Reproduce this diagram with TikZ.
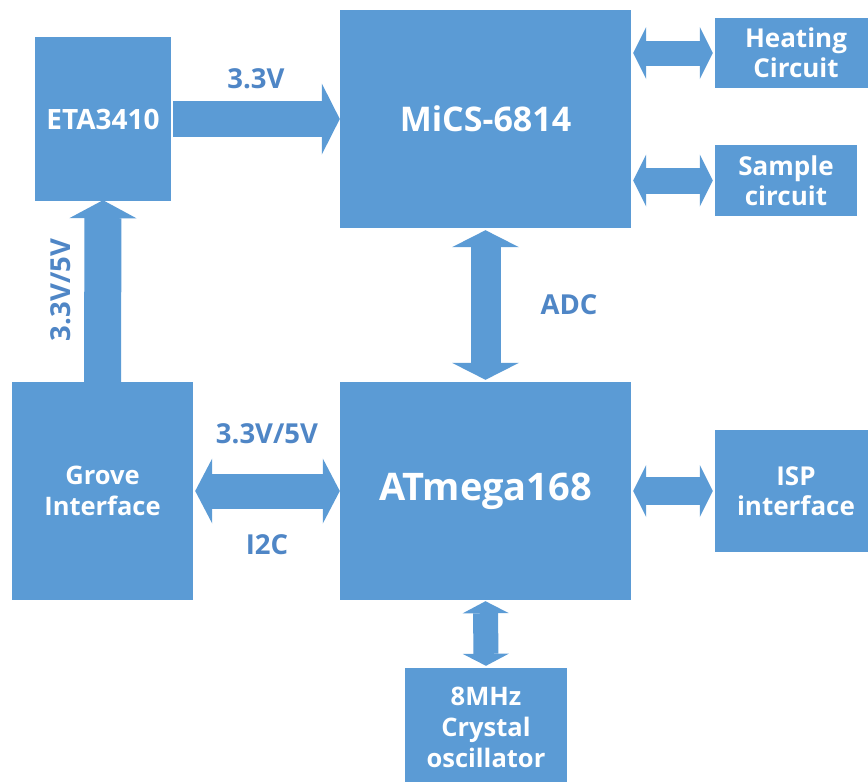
\documentclass[tikz,border=0pt]{standalone}
\usepackage{fontspec}
\setmainfont{Open Sans}
\usetikzlibrary{arrows.meta,calc}
\definecolor{boxblue}{HTML}{5B9BD5}
\definecolor{lblblue}{HTML}{4F86C6}
\tikzset{
  box/.style={fill=boxblue, draw=none, text=white, align=center, inner sep=0pt,
    font=\bfseries\fontsize{26}{30}\selectfont},
  lbl/.style={text=lblblue, inner sep=0pt, font=\bfseries\fontsize{27.5}{30}\selectfont},
  bus/.style args={#1/#2/#3}{draw=boxblue, line width=#1,
    arrows={-{Triangle[length=#3, width=#2, line width=0pt]}}},
  dbus/.style args={#1/#2/#3}{draw=boxblue, line width=#1,
    arrows={{Triangle[length=#3, width=#2, line width=0pt]}-{Triangle[length=#3, width=#2, line width=0pt]}}}
}
\begin{document}
\begin{tikzpicture}[x=1pt,y=-1pt]
\useasboundingbox[fill=white] (0,0) rectangle (868,782);
% boxes
\node[box, minimum width=136pt, minimum height=164pt, font=\bfseries\fontsize{28}{32}\selectfont] (eta) at (103,119) {ETA3410};
\node[box, minimum width=291pt, minimum height=218pt, font=\bfseries\fontsize{34}{38}\selectfont] (mics) at (485.5,119) {MiCS-6814};
\node[box, minimum width=162pt, minimum height=70pt] (heat) at (796,53) {Heating\\Circuit};
\node[box, minimum width=142pt, minimum height=71pt] (samp) at (786,180.5) {Sample\\circuit};
\node[box, minimum width=181pt, minimum height=218pt, font=\bfseries\fontsize{25.5}{31}\selectfont] (grove) at (102.5,491) {Grove\\Interface};
\node[box, minimum width=291pt, minimum height=218pt, font=\bfseries\fontsize{38}{42}\selectfont] (atm) at (485.5,491) {ATmega168};
\node[box, minimum width=162pt, minimum height=122pt] (isp) at (796,491) {ISP\\interface};
\node[box, minimum width=162pt, minimum height=118pt, font=\bfseries\fontsize{25.5}{31}\selectfont] (xtal) at (486,727) {8MHz\\Crystal\\oscillator};
% connectors
\draw[bus=36pt/71pt/18pt, shorten <=2pt] (eta.east) -- (mics.west);
\draw[bus=37pt/67pt/18pt, shorten >=-1pt] (grove.north) -- (eta.south);
\draw[dbus=25pt/52pt/13pt, shorten <=2pt, shorten >=2pt] (mics.east |- heat.west) -- (heat.west);
\draw[dbus=26pt/52pt/13pt, shorten <=2pt, shorten >=2pt] (mics.east |- samp.west) -- (samp.west);
\draw[dbus=30pt/67pt/17pt, shorten <=2pt, shorten >=2pt] (mics.south) -- (atm.north);
\draw[dbus=35pt/65pt/17pt, shorten <=2pt] (grove.east) -- (atm.west);
\draw[dbus=28pt/52pt/13pt, shorten <=2pt, shorten >=2pt] (atm.east) -- (isp.west);
\draw[dbus=25pt/46pt/12pt, shorten <=1pt, shorten >=2pt] (atm.south) -- (xtal.north);
% labels
\node[lbl] (l33) at (256,79) {3.3V};
\node[lbl, rotate=90] (l335a) at (61,290) {3.3V/5V};
\node[lbl] (ladc) at (569,305) {ADC};
\node[lbl] (l335b) at (267,434) {3.3V/5V};
\node[lbl] (li2c) at (267,545) {I2C};
\end{tikzpicture}
\end{document}
